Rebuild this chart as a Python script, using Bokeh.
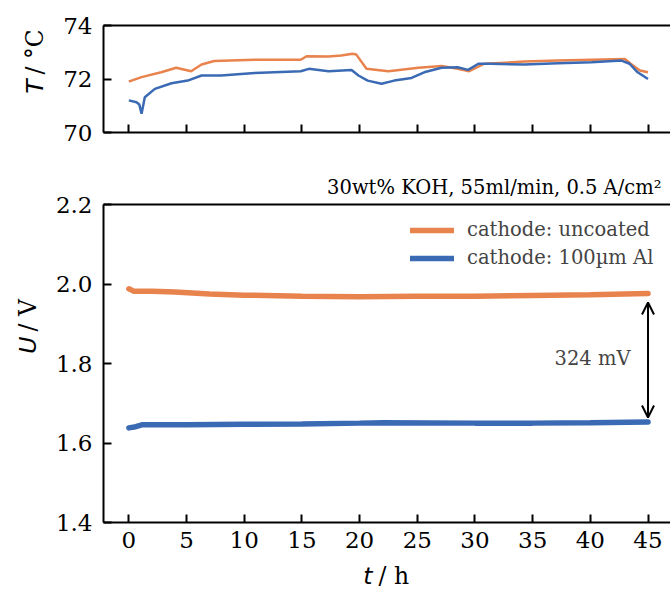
import math
from bokeh.plotting import figure
from bokeh.layouts import column, row
from bokeh.models import (Range1d, LinearAxis, FixedTicker, Label, Arrow, OpenHead,
                          Legend, LegendItem, Title)
from bokeh.embed import file_html
from bokeh.resources import INLINE

# ---------------- data ----------------
t_T_uncoated = [0, 0.1, 1.1, 2.8, 4.1, 5.4, 6.3, 7.4, 10.9, 14.9, 15.4, 17.3, 18.4, 19.4,
                19.7, 20.6, 22.5, 25.1, 27.1, 28.5, 29.5, 30.8, 34.3, 37.2, 40.1, 43.0,
                43.5, 44.3, 45.0]
T_uncoated = [71.90, 71.92, 72.07, 72.25, 72.42, 72.29, 72.54, 72.67, 72.72, 72.72, 72.85,
              72.84, 72.88, 72.94, 72.92, 72.38, 72.29, 72.42, 72.49, 72.38, 72.29, 72.57,
              72.65, 72.69, 72.72, 72.75, 72.57, 72.32, 72.25]

t_T_al = [0, 0.66, 0.9, 1.1, 1.38, 2.25, 3.7, 5.1, 6.3, 8.0, 10.9, 14.9, 15.6, 17.3, 19.3,
          19.9, 20.7, 21.9, 23.0, 24.5, 25.6, 27.1, 28.5, 29.4, 30.3, 31.4, 34.3, 37.2,
          40.1, 42.7, 43.4, 44.1, 45.0]
T_al = [71.20, 71.13, 71.05, 70.70, 71.32, 71.63, 71.84, 71.94, 72.13, 72.13, 72.22, 72.29,
        72.38, 72.29, 72.34, 72.13, 71.94, 71.82, 71.94, 72.04, 72.25, 72.42, 72.44, 72.34,
        72.57, 72.57, 72.54, 72.59, 72.63, 72.69, 72.57, 72.25, 72.00]

t_U_uncoated = [0, 0.4, 2, 4, 7, 10, 15, 20, 25, 30, 35, 40, 45]
U_uncoated = [1.988, 1.982, 1.982, 1.980, 1.975, 1.972, 1.969, 1.968, 1.969, 1.969, 1.971,
              1.973, 1.976]

t_U_al = [0, 0.6, 1.2, 5, 10, 15, 20, 22, 30, 35, 40, 45]
U_al = [1.638, 1.641, 1.646, 1.646, 1.647, 1.648, 1.650, 1.651, 1.650, 1.650, 1.651, 1.653]

x_ticks = [0, 5, 10, 15, 20, 25, 30, 35, 40, 45]
T_ticks = [70, 72, 74]
T_tick_labels = ["70", "72", "74"]
U_ticks = [1.4, 1.6, 1.8, 2.0, 2.2]
U_tick_labels = ["1.4", "1.6", "1.8", "2.0", "2.2"]

series_names = ["cathode: uncoated", "cathode: 100µm Al"]
title_text = "30wt% KOH, 55ml/min, 0.5 A/cm²"
delta_text = "324 mV"
arrow_t = 45
arrow_top = 1.9535
arrow_bottom = 1.664

# axis titles: symbol (italic) and unit (upright)
T_label = ["T", "/ °C"]
U_label = ["U", "/ V"]
t_label = ["t", "/ h"]

# ---------------- style ----------------
ORANGE = "#E8834D"
BLUE = "#3B6AB4"
SERIF = "DejaVu Serif"
SANS = "DejaVu Sans"
TICK_FS = "23px"
LABEL_FS = "23.5px"
SMALL_FS = "19.5px"

LAB_W = 50          # width of the strip that carries the y-axis titles
PLOT_W = 670 - LAB_W
H1, H2, H3 = 150, 410, 30
x_range = Range1d(-2.2, 46.95)


def style_axes(p, yticks, ylabels, show_xlabels):
    p.outline_line_color = None
    p.xgrid.visible = False
    p.ygrid.visible = False
    for ax in (p.xaxis[0], p.yaxis[0]):
        ax.axis_line_width = 2
        ax.axis_line_color = "black"
        ax.major_tick_line_width = 2
        ax.major_tick_line_color = "black"
        ax.major_tick_in = 8
        ax.major_tick_out = 0
        ax.minor_tick_line_color = None
        ax.major_label_text_font = SERIF
        ax.major_label_text_font_size = TICK_FS
        ax.major_label_text_color = "black"
    p.xaxis.ticker = FixedTicker(ticks=x_ticks)
    p.xaxis.major_label_standoff = 9
    if not show_xlabels:
        p.xaxis.major_label_text_font_size = "8px"
        p.xaxis.major_label_text_color = None
        p.xaxis.major_label_standoff = 0
    p.yaxis.ticker = FixedTicker(ticks=yticks)
    p.yaxis.major_label_overrides = {v: s for v, s in zip(yticks, ylabels)}
    p.yaxis.major_label_standoff = 11
    top = LinearAxis(ticker=FixedTicker(ticks=[]), axis_line_width=2, axis_line_color="black",
                     major_tick_line_color=None, minor_tick_line_color=None,
                     major_label_text_font_size="8px", major_label_text_color=None)
    p.add_layout(top, "above")


def text_strip(w, h):
    s = figure(width=w, height=h, x_range=Range1d(0, w), y_range=Range1d(0, h),
               x_axis_type=None, y_axis_type=None, output_backend="svg",
               toolbar_location=None, min_border=0)
    s.outline_line_color = None
    s.xgrid.visible = False
    s.ygrid.visible = False
    return s


def axis_title(s, pieces, x, y, rotated, gap):
    """Italic symbol ending at the anchor, upright unit starting just after it."""
    ang = math.pi / 2 if rotated else 0
    sym, unit = pieces
    if rotated:
        x1, y1, x2, y2 = x, y, x, y + gap
    else:
        x1, y1, x2, y2 = x, y, x + gap, y
    s.add_layout(Label(x=x1, y=y1, x_units="screen", y_units="screen", text=sym, angle=ang,
                       text_align="right", text_baseline="middle", text_font=SANS,
                       text_font_style="italic", text_font_size=LABEL_FS, text_color="black"))
    s.add_layout(Label(x=x2, y=y2, x_units="screen", y_units="screen", text=unit, angle=ang,
                       text_align="left", text_baseline="middle", text_font=SERIF,
                       text_font_size=LABEL_FS, text_color="black"))


# ---------------- top panel: temperature ----------------
p1 = figure(width=PLOT_W, height=H1, x_range=x_range, y_range=Range1d(70, 74),
            output_backend="svg", toolbar_location=None,
            min_border_left=103 - LAB_W, min_border_right=0, min_border_top=25,
            min_border_bottom=18)
style_axes(p1, T_ticks, T_tick_labels, False)
p1.line(t_T_uncoated, T_uncoated, line_color=ORANGE, line_width=2.5)
p1.line(t_T_al, T_al, line_color=BLUE, line_width=2.5)

lab1 = text_strip(LAB_W, H1)
axis_title(lab1, T_label, 34, H1 - 97, True, gap=5)

# ---------------- bottom panel: voltage ----------------
p2 = figure(width=PLOT_W, height=H2, x_range=x_range, y_range=Range1d(1.4, 2.2),
            output_backend="svg", toolbar_location=None,
            min_border_left=103 - LAB_W, min_border_right=0, min_border_top=54,
            min_border_bottom=38)
style_axes(p2, U_ticks, U_tick_labels, True)
r_unc = p2.line(t_U_uncoated, U_uncoated, line_color=ORANGE, line_width=5.5, line_cap="round")
r_al = p2.line(t_U_al, U_al, line_color=BLUE, line_width=5.5, line_cap="round")

p2.title = Title(text=title_text, align="right", offset=9, standoff=12,
                 text_font=SERIF, text_font_size=SMALL_FS, text_font_style="normal",
                 text_color="black")

legend = Legend(items=[LegendItem(label=series_names[0], renderers=[r_unc]),
                       LegendItem(label=series_names[1], renderers=[r_al])],
                location=(307, 253), padding=0, margin=0, spacing=5,
                glyph_width=44, glyph_height=20, label_standoff=13,
                label_text_font=SERIF, label_text_font_size=SMALL_FS,
                border_line_color=None, background_fill_alpha=0)
p2.add_layout(legend, "center")

p2.add_layout(Arrow(start=OpenHead(size=12, line_width=2), end=OpenHead(size=12, line_width=2),
                    x_start=arrow_t, y_start=arrow_bottom, x_end=arrow_t, y_end=arrow_top,
                    line_width=2, line_color="black"))
p2.add_layout(Label(x=489, y=164, x_units="screen", y_units="screen", text=delta_text,
                    text_align="center", text_baseline="middle",
                    text_font=SERIF, text_font_size=SMALL_FS))

lab2 = text_strip(LAB_W, H2)
axis_title(lab2, U_label, 27, (150 + H2) - 374, True, gap=5)

# ---------------- x-axis title strip ----------------
lab3 = text_strip(670, H3)
axis_title(lab3, t_label, 372, H3 - (575 - (150 + H2)), False, gap=6)

layout = column(row(lab1, p1, spacing=0), row(lab2, p2, spacing=0), lab3, spacing=0)
open("out.html", "w").write(file_html(layout, INLINE))
